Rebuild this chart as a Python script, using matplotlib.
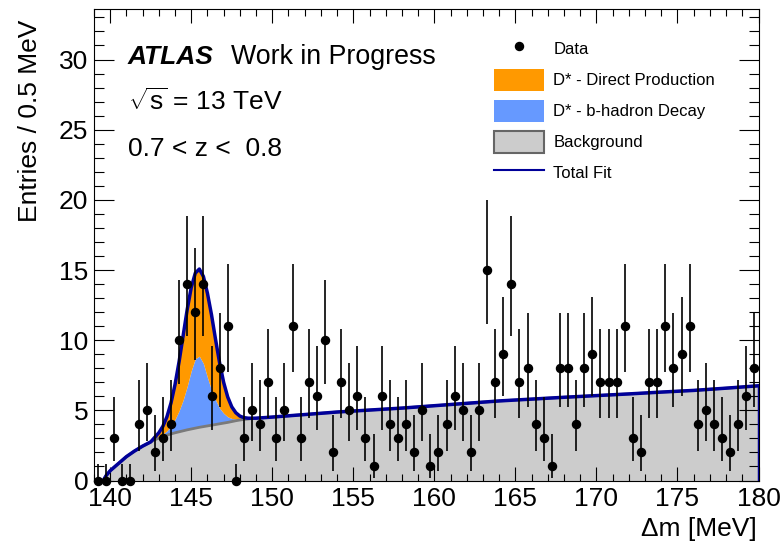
import math
import numpy as np
import matplotlib
matplotlib.use("Agg")
import matplotlib.pyplot as plt
from matplotlib.patches import Patch
from matplotlib.lines import Line2D
from matplotlib.ticker import MultipleLocator

plt.rcParams['font.family'] = ['Liberation Sans', 'DejaVu Sans']
plt.rcParams['mathtext.fontset'] = 'custom'
plt.rcParams['mathtext.rm'] = 'Liberation Sans'
plt.rcParams['mathtext.it'] = 'Liberation Sans:italic'
plt.rcParams['mathtext.bf'] = 'Liberation Sans:bold'

# --- dati: conteggi per bin da 0.5 MeV (139.0 -> 180.0) ---
bin_lo = 139.0
bin_width = 0.5
counts = [0, 0, 3, 0, 0, 4, 5, 2, 3, 4,
          10, 14, 12, 14, 6, 8, 11, 0, 3, 5,
          4, 7, 3, 5, 11, 3, 7, 6, 10, 2,
          7, 5, 6, 3, 1, 6, 4, 3, 4, 2,
          5, 1, 2, 4, 6, 5, 2, 5, 15, 7,
          9, 14, 7, 8, 4, 3, 1, 8, 8, 4,
          8, 9, 7, 7, 7, 11, 3, 2, 7, 7,
          11, 8, 9, 11, 4, 5, 4, 3, 2, 4,
          6, 8]

# --- componenti del fit ---
fit_x = [139.57, 139.75, 140.0, 140.25, 140.5, 141.0, 141.5, 142.0, 142.5, 142.75,
         143.0, 143.25, 143.5, 143.75, 144.0, 144.25, 144.5, 144.75, 145.0, 145.25,
         145.5, 145.75, 146.0, 146.25, 146.5, 146.75, 147.0, 147.25, 147.5, 147.75,
         148.0, 148.25, 148.5, 149.0, 150.0, 152.0, 154.0, 156.0, 158.0, 160.0,
         162.0, 164.0, 166.0, 168.0, 170.0, 172.0, 174.0, 176.0, 178.0, 180.0]
fit_bkg = [0.0, 0.35, 0.7, 0.95, 1.2, 1.7, 2.1, 2.45, 2.75, 2.9,
           3.02, 3.13, 3.23, 3.32, 3.4, 3.47, 3.54, 3.61, 3.67, 3.73,
           3.79, 3.84, 3.89, 3.94, 3.99, 4.04, 4.09, 4.14, 4.2, 4.26,
           4.31, 4.35, 4.38, 4.44, 4.52, 4.7, 4.88, 5.02, 5.16, 5.33,
           5.5, 5.67, 5.8, 5.93, 6.05, 6.17, 6.3, 6.42, 6.58, 6.75]
fit_bhad = [0, 0, 0, 0, 0, 0, 0, 0, 0, 0.05,
            0.09, 0.17, 0.31, 0.55, 0.95, 1.5, 2.2, 3.1, 4.15, 4.95,
            5.07, 4.5, 3.45, 2.5, 1.75, 1.12, 0.7, 0.4, 0.22, 0.12,
            0.06, 0.03, 0.02, 0, 0, 0, 0, 0, 0, 0,
            0, 0, 0, 0, 0, 0, 0, 0, 0, 0]
fit_direct = [0, 0, 0, 0, 0, 0, 0, 0, 0, 0.13,
              0.29, 0.56, 1.0, 1.65, 2.49, 3.5, 4.58, 5.47, 5.93, 6.1,
              6.21, 6.2, 6.0, 5.37, 4.31, 3.22, 2.2, 1.41, 0.83, 0.45,
              0.22, 0.1, 0.04, 0, 0, 0, 0, 0, 0, 0,
              0, 0, 0, 0, 0, 0, 0, 0, 0, 0]

n = np.array(counts)
x = bin_lo + bin_width * (np.arange(len(n)) + 0.5)


# errori di Poisson asimmetrici (intervallo centrale 68%)
def poisson_interval(k, cl=0.6827):
    alpha = (1 - cl) / 2

    def cdf(m, mu):
        return sum(math.exp(-mu) * mu ** i / math.factorial(i) for i in range(m + 1))

    def solve(f, target, lo, hi):
        for _ in range(60):
            mid = 0.5 * (lo + hi)
            if f(mid) > target:
                lo = mid
            else:
                hi = mid
        return 0.5 * (lo + hi)

    if k == 0:
        return 0.0, -math.log(1 - cl)
    up = solve(lambda mu: cdf(k, mu), alpha, k, k + 10 * math.sqrt(k) + 10)
    down = solve(lambda mu: cdf(k - 1, mu), 1 - alpha, 0, k)
    return down, up


intervals = [poisson_interval(int(k)) for k in n]
err_lo = n - np.array([a for a, b in intervals])
err_hi = np.array([b for a, b in intervals]) - n

fx = np.array(fit_x)
bkg = np.array(fit_bkg)
bhad_top = bkg + np.array(fit_bhad)
total = bhad_top + np.array(fit_direct)

# --- Plot ---
fig = plt.figure(figsize=(7.82, 5.43), dpi=100)
ax = fig.add_axes([94 / 782, 1 - 480.5 / 543, 664.5 / 782, 471.5 / 543])

c_bkg, c_bkg_edge = '#cccccc', '#7a7a7a'
c_bhad, c_direct, c_fit = '#6699ff', '#ff9900', '#000099'

ax.fill_between(fx, 0, bkg, color=c_bkg, lw=0)
ax.plot(fx, bkg, color=c_bkg_edge, lw=2)
ax.fill_between(fx, bkg, bhad_top, where=bhad_top > bkg, color=c_bhad, lw=0)
ax.fill_between(fx, bhad_top, total, where=total > bhad_top, color=c_direct, lw=0)
ax.plot(fx, total, color=c_fit, lw=2.5)
ax.vlines(fx[-1], 0, total[-1], color=c_fit, lw=2.5)

ax.errorbar(x, n, yerr=[err_lo, err_hi], fmt='o', color='black', ms=5.8,
            elinewidth=1.2, capsize=0, zorder=5, clip_on=False)

ax.set_xlim(139, 180)
ax.set_ylim(0, 33.6)
ax.xaxis.set_major_locator(MultipleLocator(5))
ax.xaxis.set_minor_locator(MultipleLocator(1))
ax.yaxis.set_major_locator(MultipleLocator(5))
ax.yaxis.set_minor_locator(MultipleLocator(1))
ax.tick_params(which='both', direction='in', top=True, right=True, labelsize=19, width=0.8)
ax.tick_params(axis='x', which='major', length=10, pad=5)
ax.tick_params(axis='x', which='minor', length=5)
ax.tick_params(axis='y', which='major', length=14.4, pad=4)
ax.tick_params(axis='y', which='minor', length=7.5)
for s in ax.spines.values():
    s.set_linewidth(0.8)

fig.text(30 / 782, 1 - 20 / 543, 'Entries / 0.5 MeV', rotation=90,
         ha='center', va='top', fontsize=19)
fig.text(757 / 782, 1 - 536 / 543, 'Δm [MeV]', ha='right', va='baseline', fontsize=19)

ax.text(0.0512, 0.884, 'ATLAS', transform=ax.transAxes, fontsize=19,
        fontweight='bold', fontstyle='italic', va='baseline')
ax.text(0.206, 0.884, 'Work in Progress', transform=ax.transAxes, fontsize=19.3, va='baseline')
ax.text(0.0512, 0.786, r'$\sqrt{\mathrm{s}}$ = 13 TeV', transform=ax.transAxes,
        fontsize=19, va='baseline')
ax.text(0.0512, 0.688, '0.7 < z <  0.8', transform=ax.transAxes, fontsize=19, va='baseline')

handles = [
    Line2D([], [], marker='o', color='black', ls='none', ms=5.8),
    Patch(facecolor=c_direct, edgecolor='none'),
    Patch(facecolor=c_bhad, edgecolor='none'),
    Patch(facecolor=c_bkg, edgecolor='#666666', lw=1.5),
    Line2D([], [], color=c_fit, lw=1.5),
]
labels = ['Data', 'D* - Direct Production', 'D* - b-hadron Decay', 'Background', 'Total Fit']
fig.legend(handles, labels, loc='upper left', bbox_to_anchor=(494 / 782, 1 - 38 / 543),
           frameon=False, fontsize=12, handlelength=3.0, handleheight=1.65,
           labelspacing=0.54, handletextpad=0.55, borderpad=0, borderaxespad=0)

plt.savefig('out.png', dpi=100)
